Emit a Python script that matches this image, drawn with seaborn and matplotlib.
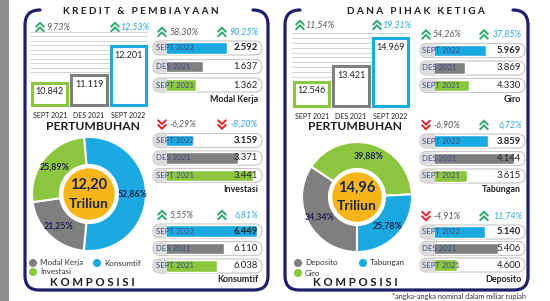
import numpy as np
import pandas as pd
import matplotlib
matplotlib.use("Agg")
import matplotlib.pyplot as plt
import seaborn as sns
from matplotlib.patches import FancyBboxPatch, Circle, Rectangle, PathPatch
from matplotlib.path import Path

# ---------------- data ----------------
periods = ["SEPT 2021", "DES 2021", "SEPT 2022"]
kredit_total = [10842, 11119, 12201]
kredit_growth = ["9,73%", "12,53%"]
dpk_total = [12546, 13421, 14969]
dpk_growth = ["11,54%", "19,31%"]

row_labels = ["SEPT 2022", "DES 2021", "SEPT 2021"]
modal_kerja = [2592, 1637, 1362]
investasi = [3159, 3371, 3441]
konsumtif = [6449, 6110, 6038]
giro = [5969, 3869, 4330]
tabungan = [3859, 4144, 3615]
deposito = [5140, 5406, 4600]

modal_kerja_growth = ["58,30%", "90,25%"]
investasi_growth = ["-6,29%", "-8,20%"]
konsumtif_growth = ["5,55%", "6,81%"]
giro_growth = ["54,26%", "37,85%"]
tabungan_growth = ["-6,90%", "6,72%"]
deposito_growth = ["-4,91%", "11,74%"]

kredit_comp_labels = ["Konsumtif", "Modal Kerja", "Investasi"]
kredit_comp = [52.86, 21.25, 25.89]
kredit_center = "12,20"
dpk_comp_labels = ["Deposito", "Giro", "Tabungan"]
dpk_comp = [34.34, 39.88, 25.78]
dpk_center = "14,96"

# ---------------- style ----------------
BLUE = "#1ba9e1"
GRAY = "#7f7f7f"
GREEN = "#8cc63e"
ORANGE = "#f7b51a"
NAVY = "#1c1f6b"
DARK = "#1e1e1e"
UP = "#2fa86a"
DOWN = "#d9252c"
period_palette = {"SEPT 2021": GREEN, "DES 2021": GRAY, "SEPT 2022": BLUE}
row_palette = {"SEPT 2022": BLUE, "DES 2021": GRAY, "SEPT 2021": GREEN}
comp_palette = {"Konsumtif": BLUE, "Modal Kerja": GRAY, "Investasi": GREEN,
                "Deposito": GRAY, "Giro": GREEN, "Tabungan": BLUE}

sns.set_style("white")
plt.rcParams["font.family"] = ["Lato", "DejaVu Sans"]

W, H = 550, 301
fig = plt.figure(figsize=(5.5, 3.01), dpi=100)
fig.patch.set_facecolor("white")


def rect(x0, y0, x1, y1):
    return [x0 / W, 1 - y1 / H, (x1 - x0) / W, (y1 - y0) / H]


bg = fig.add_axes([0, 0, 1, 1], zorder=0)
bg.set_xlim(0, W); bg.set_ylim(H, 0); bg.axis("off")
fg = fig.add_axes([0, 0, 1, 1], zorder=10)
fg.set_xlim(0, W); fg.set_ylim(H, 0); fg.axis("off")


def fmt(v):
    return f"{v:,}".replace(",", ".")


# left grey strip
bg.add_patch(Rectangle((0, 0), 9, H, fc="#8e8e8e", ec="none"))


def panel_border(x0, x1, y0, y1):
    rt, rb = 15, 14
    verts = [(x0 + rt, y0), (x0, y0), (x0, y0 + rt),
             (x0, y1 - rb), (x0, y1), (x0 + rb, y1),
             (x1 - rb, y1), (x1, y1), (x1, y1 - rb),
             (x1, y0 + rt), (x1, y0), (x1 - rt, y0)]
    codes = [Path.MOVETO, Path.CURVE3, Path.CURVE3, Path.LINETO, Path.CURVE3, Path.CURVE3,
             Path.LINETO, Path.CURVE3, Path.CURVE3, Path.LINETO, Path.CURVE3, Path.CURVE3]
    bg.add_patch(PathPatch(Path(verts, codes), fill=False, ec=NAVY, lw=2.3,
                           capstyle="round", joinstyle="round"))


panel_border(25, 268, 10, 290)
panel_border(285, 528, 10, 290)


def chevron(x, y, up, color):
    for k in (-2.3, 2.3):
        yy = y + k
        if up:
            pts = [(x - 3.8, yy + 1.9), (x, yy - 1.9), (x + 3.8, yy + 1.9)]
        else:
            pts = [(x - 3.8, yy - 1.9), (x, yy + 1.9), (x + 3.8, yy - 1.9)]
        xs, ys = zip(*pts)
        fg.plot(xs, ys, color=color, lw=1.4, solid_capstyle="round", solid_joinstyle="miter")


def growth_row(y, growth, pos, right_align_second=True):
    c1, t1, c2, t2 = pos
    for i, (cx, tx, col) in enumerate([(c1, t1, "#555555"), (c2, t2, "#2aa7df")]):
        g = growth[i]
        up = not g.startswith("-")
        chevron(cx, y, up, UP if up else DOWN)
        ha = "right" if (i == 1 and right_align_second) else "left"
        fg.text(tx, y, g, fontsize=6.4, style="italic", color=col, ha=ha, va="center")


# ---------------- titles ----------------
def spaced(s, sep=" "):
    return sep.join(list(s))


fg.text(141, 11, "K R E D I T   &   P E M B I A Y A A N", fontsize=7.2, fontweight="bold",
        color=DARK, ha="center", va="center")
fg.text(416, 12, "D A N A   P I H A K   K E T I G A", fontsize=7.2, fontweight="bold",
        color=DARK, ha="center", va="center")
for x in (93, 355):
    fg.text(x, 127, "PERTUMBUHAN", fontsize=8.7, fontweight="bold", color=DARK,
            ha="center", va="center")
for x in (92, 355):
    fg.text(x, 282, spaced("KOMPOSISI"), fontsize=8.2, fontweight="bold", color=DARK,
            ha="center", va="center")


# ---------------- top bar charts ----------------
def top_chart(box, values, ylim, grid_vals, growth, gpos, gy):
    ax = fig.add_axes(rect(*box), zorder=2)
    ax.set_facecolor("none")
    df = pd.DataFrame({"period": periods, "value": values})
    sns.barplot(data=df, x="period", y="value", hue="period", palette=period_palette,
                width=0.9, saturation=1, legend=False, ax=ax)
    ax.set_ylim(*ylim)
    base = ylim[0] + (ylim[1] - ylim[0]) * 0.02
    for p in ax.patches:
        col = p.get_facecolor()
        top = p.get_y() + p.get_height()
        p.set_y(base)
        p.set_height(top - base)
        p.set_facecolor("white")
        p.set_edgecolor(col)
        p.set_linewidth(2.2)
    for i, v in enumerate(values):
        ax.annotate(fmt(v), (i, v), xytext=(0, -6.5), textcoords="offset points",
                    ha="center", va="center", fontsize=6.5, color="#222222")
    ax.set_yticks(grid_vals)
    ax.set_yticklabels([])
    ax.grid(axis="y", color="#d4d4d4", lw=0.7)
    ax.set_axisbelow(True)
    ax.tick_params(axis="both", length=0)
    ax.tick_params(axis="x", labelsize=5, pad=3.5, colors="#222222")
    ax.set_xlabel("")
    ax.set_ylabel("")
    ax.set_xlim(-0.5, 2.5)
    for s in ax.spines.values():
        s.set_visible(False)
    growth_row(gy, growth, gpos, right_align_second=False)


top_chart((30, 30, 148, 107), kredit_total, (9950, 12802),
          np.linspace(11246, 12728, 10), kredit_growth, (40, 46, 115, 120), 27)
top_chart((292, 30, 410, 108), dpk_total, (11100, 15433),
          np.linspace(12822, 15267, 10), dpk_growth, (300, 305, 377, 382), 25)


# ---------------- pill bar groups ----------------
def pill_group(xl, xf, xr, centers, values, xlim, name, growth, gpos):
    sp = (centers[2] - centers[0]) / 2
    for c in centers:
        bg.add_patch(FancyBboxPatch((xl, c - 7), xr - xl, 14,
                                    boxstyle="round,pad=0,rounding_size=7",
                                    fc="white", ec="#c9c9c9", lw=0.9))
        bg.add_patch(FancyBboxPatch((xl + 0.8, c - 6.2), 22, 12.4,
                                    boxstyle="round,pad=0,rounding_size=6",
                                    fc="#dcdcdc", ec="none"))
    ax = fig.add_axes(rect(xf, centers[0] - sp / 2, xr - 1, centers[2] + sp / 2), zorder=2)
    ax.set_facecolor("none")
    df = pd.DataFrame({"row": row_labels, "value": values})
    sns.barplot(data=df, y="row", x="value", hue="row", palette=row_palette, orient="h",
                width=11.5 / sp, saturation=1, legend=False, ax=ax)
    ax.set_xlim(*xlim)
    ax.axis("off")
    for i, c in enumerate(centers):
        fg.text(xl + 2.5, c, row_labels[i], fontsize=5.6, color="#3d4c80", ha="left", va="center")
        fg.text(xr - 4, c, fmt(values[i]), fontsize=6.8, color="#222222", ha="right",
                va="center", fontweight="bold" if i == 0 else "normal")
    fg.text(xr - 4, centers[2] + 14, name, fontsize=6.4, fontweight="bold", color="#222222",
            ha="right", va="center")
    growth_row(centers[0] - 16, growth, gpos)


LPOS = (162, 170, 222, 258)
RPOS = (426, 433, 484, 522)
pill_group(153, 167, 262, (48, 66.5, 85), modal_kerja, (252, 3906), "Modal Kerja",
           modal_kerja_growth, LPOS)
pill_group(153, 167, 262, (140.5, 158, 175.5), investasi, (3038, 3480), "Investasi",
           investasi_growth, LPOS)
pill_group(153, 167, 262, (231, 248.5, 266), konsumtif, (5514, 6490), "Konsumtif",
           konsumtif_growth, LPOS)
pill_group(420, 435, 525, (50.5, 68, 85.5), giro, (1012, 9583), "Giro",
           giro_growth, RPOS)
pill_group(420, 435, 525, (141, 158.5, 176), tabungan, (3260, 4260), "Tabungan",
           tabungan_growth, RPOS)
pill_group(420, 435, 525, (232, 248.5, 265), deposito, (4177, 5908), "Deposito",
           deposito_growth, RPOS)


# ---------------- donuts ----------------
def donut(cx, cy, r, labels, values, center_text, startangle, legend_pos):
    m = 1.05
    ax = fig.add_axes(rect(cx - r * m, cy - r * m, cx + r * m, cy + r * m), zorder=2)
    ax.pie(values, colors=[comp_palette[l] for l in labels], startangle=startangle,
           counterclock=False,
           wedgeprops=dict(width=0.49, edgecolor="white", linewidth=1.5),
           autopct=lambda p: f"{p:.2f}%".replace(".", ","), pctdistance=0.77,
           textprops=dict(fontsize=6.3, fontweight="bold", color="#1c2150"))
    ax.add_patch(Circle((0, 0), 0.45, fc=ORANGE, ec="none", zorder=3))
    ax.text(0, 0.16, center_text, fontsize=10.5, fontweight="bold", color="#1f2350",
            ha="center", va="center", zorder=4)
    ax.text(0, -0.17, "Triliun", fontsize=10, fontweight="bold", color="#1f2350",
            ha="center", va="center", zorder=4)
    ax.set_xlim(-m, m)
    ax.set_ylim(-m, m)
    for l in labels:
        x, y = legend_pos[l]
        fg.scatter([x], [y], s=34, color=comp_palette[l], edgecolors="none")
        fg.text(x + 7, y, l, fontsize=5.8, color="#333333", ha="left", va="center")


donut(89, 194, 57, kredit_comp_labels, kredit_comp, kredit_center, 95,
      {"Modal Kerja": (33, 263), "Konsumtif": (97, 263), "Investasi": (33, 272)})
donut(357, 197, 55, dpk_comp_labels, dpk_comp, dpk_center, -90,
      {"Deposito": (298, 263), "Tabungan": (363, 263), "Giro": (298, 273)})

fg.text(392, 296.5, "*angka-angka nominal dalam miliar rupiah", fontsize=5.3, color="#333333",
        ha="left", va="center")

fig.savefig("out.png", dpi=100, facecolor="white")
